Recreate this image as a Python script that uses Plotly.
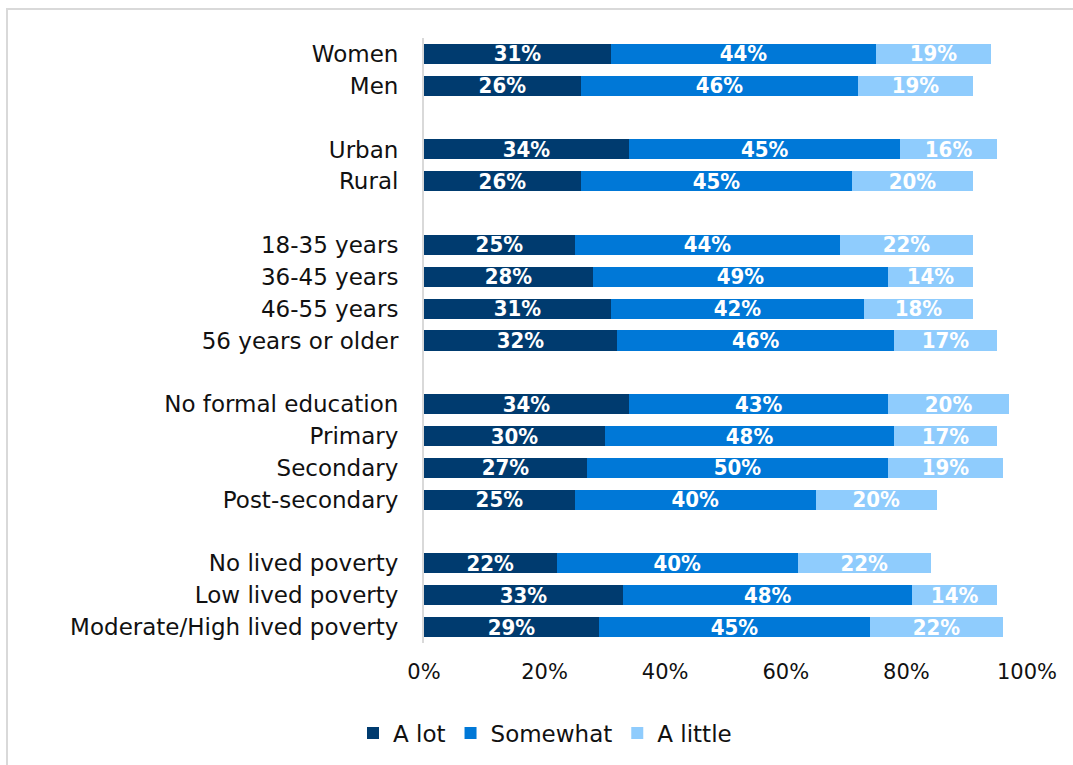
import plotly.graph_objects as go

categories = ["Women", "Men", " ",
              "Urban", "Rural", "  ",
              "18-35 years", "36-45 years", "46-55 years", "56 years or older", "   ",
              "No formal education", "Primary", "Secondary", "Post-secondary", "    ",
              "No lived poverty", "Low lived poverty", "Moderate/High lived poverty"]

a_lot    = [31, 26, None, 34, 26, None, 25, 28, 31, 32, None, 34, 30, 27, 25, None, 22, 33, 29]
somewhat = [44, 46, None, 45, 45, None, 44, 49, 42, 46, None, 43, 48, 50, 40, None, 40, 48, 45]
a_little = [19, 19, None, 16, 20, None, 22, 14, 18, 17, None, 20, 17, 19, 20, None, 22, 14, 22]

series = [("A lot", a_lot, "#003B6F"),
          ("Somewhat", somewhat, "#0078D7"),
          ("A little", a_little, "#8FCCFD")]

W, H = 1073, 765
L, R, T, B = 424, 46, 38, 121
pw, ph = W - L - R, H - T - B

fig = go.Figure()
for name, vals, col in series:
    fig.add_trace(go.Bar(
        y=categories, x=vals, name=name, orientation="h",
        marker=dict(color=col, line=dict(width=0)),
        text=[f"{v}%" if v is not None else "" for v in vals],
        textposition="inside", insidetextanchor="middle",
        constraintext="none",
        textfont=dict(family="DejaVu Sans Condensed, DejaVu Sans, sans-serif",
                      size=22, color="white", weight="bold"),
        cliponaxis=True,
    ))

fig.update_layout(
    width=W, height=H,
    margin=dict(l=L, r=R, t=T, b=B),
    barmode="stack", bargap=0.37,
    paper_bgcolor="white", plot_bgcolor="white",
    font=dict(family="DejaVu Sans, sans-serif", size=21, color="#111111"),
    legend=dict(orientation="h", x=(545 - L) / pw, xanchor="center",
                y=-(733 - (T + ph)) / ph, yanchor="middle",
                font=dict(size=23), traceorder="normal",
                itemwidth=30, bgcolor="rgba(0,0,0,0)"),
    showlegend=True,
)
fig.update_xaxes(range=[0, 100], tickvals=[0, 20, 40, 60, 80, 100],
                 ticktext=["0%", "20%", "40%", "60%", "80%", "100%"],
                 showgrid=False, zeroline=False, showline=False,
                 ticks="", ticklabelstandoff=14, tickfont=dict(size=21))
fig.update_yaxes(autorange="reversed", categoryorder="array", categoryarray=categories,
                 showgrid=False, zeroline=False, showline=True, linecolor="#D9D9D9",
                 linewidth=2, ticks="", ticklabelstandoff=19, tickfont=dict(size=23))

# outer frame (only top and left edges are visible in the image)
fig.add_shape(type="rect", xref="paper", yref="paper",
              x0=(7 - L) / pw, x1=(W + 5 - L) / pw,
              y0=-(H + 5 - (T + ph)) / ph, y1=1 + (T - 9) / ph,
              line=dict(color="#D9D9D9", width=2), layer="below")

fig.write_html("out.html", config={"displayModeBar": False},
               post_script="document.body.style.margin='0px';")
